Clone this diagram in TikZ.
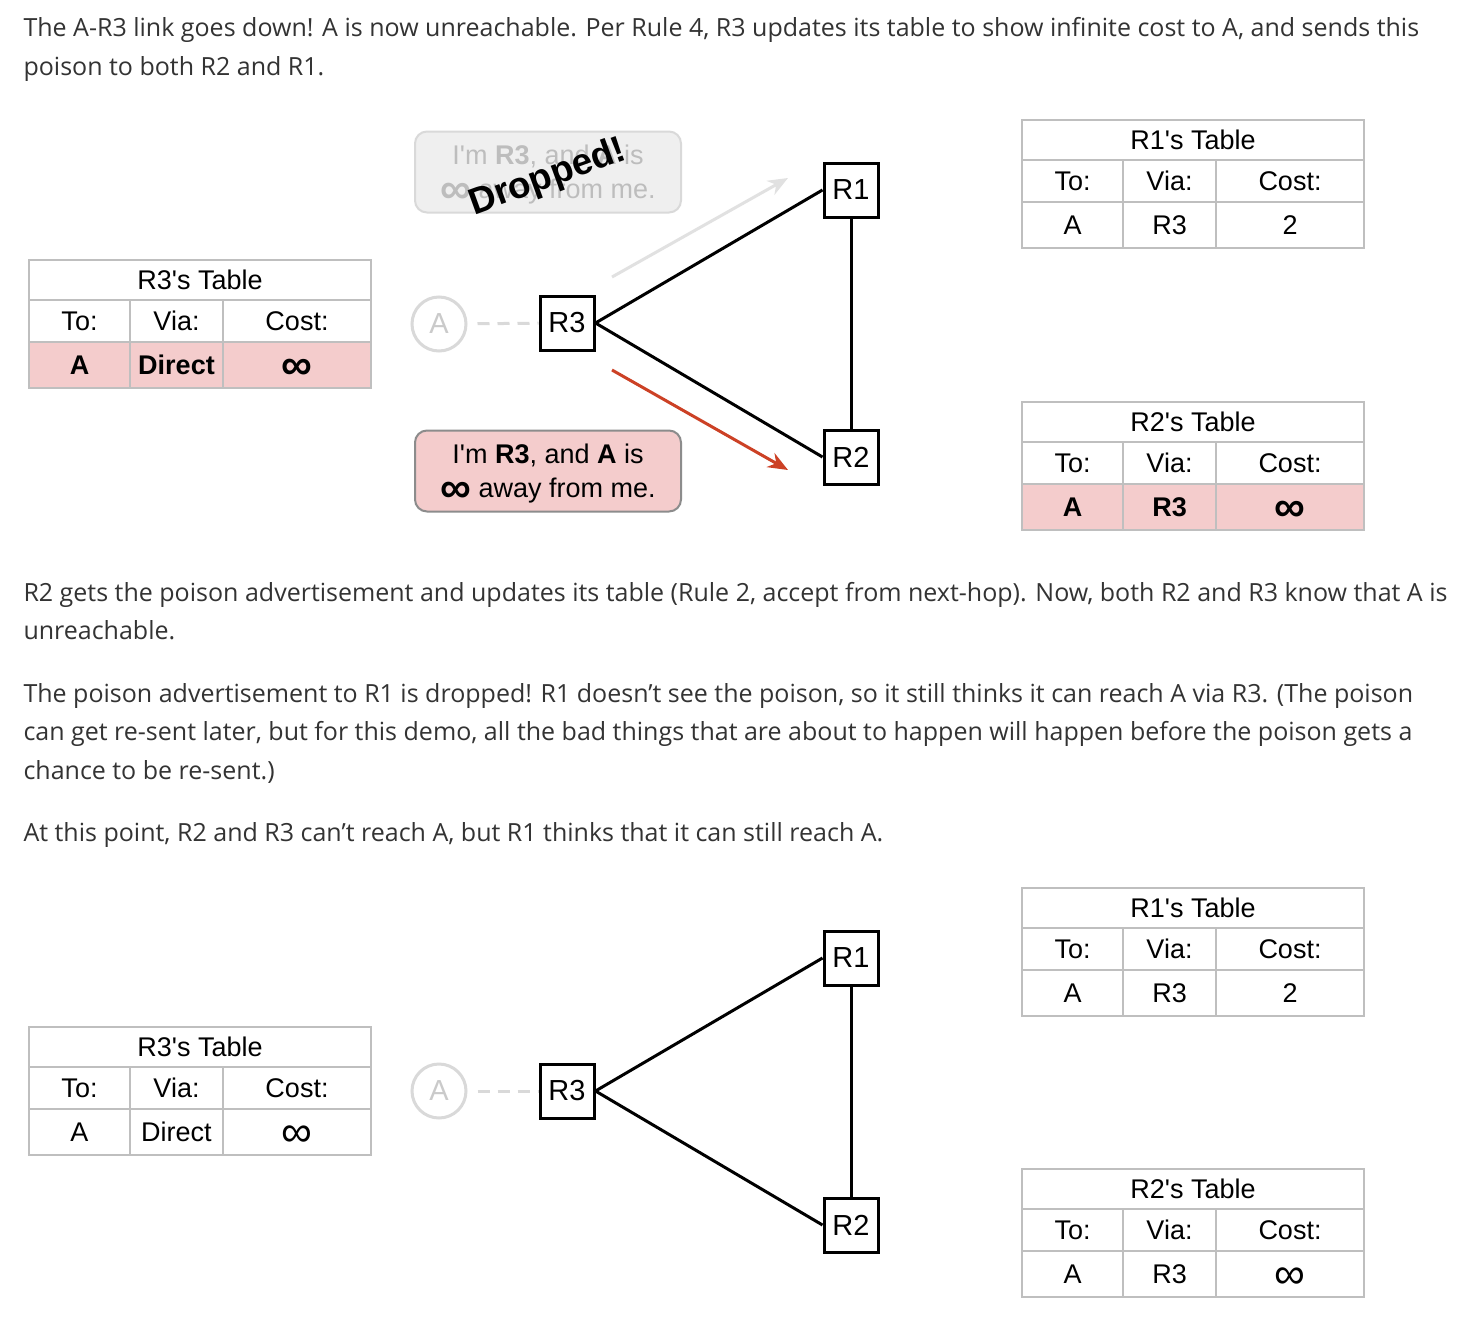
\documentclass[tikz,border=0pt]{standalone}
\usepackage{fontspec}
\setmainfont{Open Sans}
\newfontfamily\diagfont{Liberation Sans}
\usetikzlibrary{arrows.meta,positioning}

\definecolor{bodytext}{HTML}{333333}
\definecolor{rowpink}{HTML}{F4CCCC}
\definecolor{poisonred}{HTML}{CC4125}
\definecolor{gridgray}{HTML}{BFBFBF}
\definecolor{fadegray}{HTML}{D9D9D9}
\definecolor{fadetext}{HTML}{BDBDBD}
\definecolor{bubblegray}{HTML}{EFEFEF}

\newcommand{\infsym}{\raisebox{-0.16em}{\scalebox{1.6}{∞}}}

% one routing table: name, x, y, title, via, cost, row style
\newcommand{\routetable}[7]{%
  \node[tcell, minimum width=342pt, minimum height=40pt] (#1t) at (#2,#3) {#4};
  \node[tcell, minimum width=101pt, minimum height=42pt] (#1h1) at (#1t.south west) {To:};
  \node[tcell, minimum width=93pt,  minimum height=42pt] (#1h2) at (#1h1.north east) {Via:};
  \node[tcell, minimum width=148pt, minimum height=42pt] (#1h3) at (#1h2.north east) {Cost:};
  \node[tcell, #7, minimum width=101pt, minimum height=46pt] (#1d1) at (#1h1.south west) {A};
  \node[tcell, #7, minimum width=93pt,  minimum height=46pt] (#1d2) at (#1d1.north east) {#5};
  \node[tcell, #7, minimum width=148pt, minimum height=46pt] (#1d3) at (#1d2.north east) {#6};
}

\begin{document}
\begin{tikzpicture}[x=1pt,y=-1pt,>={Stealth[length=20pt,width=16pt]},
                    line width=3pt]
  \tikzstyle{para}=[anchor=base west, inner sep=0, text=bodytext,
                    font=\fontsize{25}{28}\selectfont]
  \tikzstyle{router}=[draw, line width=3pt, minimum size=54pt, inner sep=0,
                      font=\diagfont\fontsize{29}{29}\selectfont]
  \tikzstyle{host}=[circle, draw=fadegray, line width=3pt, minimum size=54pt,
                    inner sep=0, text=fadetext!80, font=\diagfont\fontsize{29}{29}\selectfont]
  \tikzstyle{link}=[line width=3pt]
  \tikzstyle{downlink}=[line width=3pt, draw=fadegray, dash pattern=on 12pt off 8pt,
                        shorten <=10pt]
  \tikzstyle{tcell}=[draw=gridgray, line width=2pt, inner sep=0, outer sep=0,
                     text height=19.5pt, text depth=0pt,
                     anchor=north west, font=\diagfont\fontsize{27}{27}\selectfont]
  \tikzstyle{hot}=[fill=rowpink, font=\diagfont\bfseries\fontsize{27}{27}\selectfont]
  \tikzstyle{plain}=[]
  \tikzstyle{bubble}=[rounded corners=12pt, line width=2pt, minimum width=266pt,
                      minimum height=81pt, inner sep=0, align=center, text depth=0pt,
                      font=\diagfont\fontsize{27}{34}\selectfont]

  \useasboundingbox[fill=white] (0,0) rectangle (1462,1325);

  % text
  \node[para] (p1a) at (22,36) {The A-R3 link goes down! A is now unreachable. Per Rule 4, R3 updates its table to show infinite cost to A, and sends this};
  \node[para] (p1b) at (22,75) {poison to both R2 and R1.};
  \node[para] (p2a) at (22,601) {R2 gets the poison advertisement and updates its table (Rule 2, accept from next-hop). Now, both R2 and R3 know that A is};
  \node[para] (p2b) at (22,639) {unreachable.};
  \node[para] (p3a) at (22,702) {The poison advertisement to R1 is dropped! R1 doesn’t see the poison, so it still thinks it can reach A via R3. (The poison};
  \node[para] (p3b) at (22,740) {can get re-sent later, but for this demo, all the bad things that are about to happen will happen before the poison gets a};
  \node[para] (p3c) at (22,779) {chance to be re-sent.)};
  \node[para] (p4a) at (22,841) {At this point, R2 and R3 can’t reach A, but R1 thinks that it can still reach A.};

  % first snapshot
  \node[router] (R1) at (851,190) {R1};
  \node[router] (R3) at (567,323) {R3};
  \node[router] (R2) at (851,457) {R2};
  \node[host]   (A)  at (439,324) {A};

  \path (A)  edge [downlink] (R3)
        (R3.east) edge [link] (R1.west)
        (R3.east) edge [link] (R2.west)
        (R1) edge [link] (R2);

  \node[bubble, fill=bubblegray, draw=fadegray, text=fadetext] (lost) at (548,172)
    {I'm \textbf{R3}, and \textbf{A} is\\\textbf{\infsym} away from me.};
  \node[rotate=20, inner sep=0, font=\diagfont\bfseries\fontsize{37}{37}\selectfont]
    (drop) at (548,178) {Dropped!};
  \node[bubble, fill=rowpink, draw=black!45] (sent) at (548,471)
    {I'm \textbf{R3}, and \textbf{A} is\\\textbf{\infsym} away from me.};

  \coordinate (lostfrom) at (612,277);
  \coordinate (lostto)   at (788,178);
  \coordinate (sentfrom) at (612,370);
  \coordinate (sentto)   at (788,470);
  \draw[->, fadegray!80] (lostfrom) -- (lostto);
  \draw[->, poisonred] (sentfrom) -- (sentto);

  \routetable{r3a}{29}{260}{R3's Table}{Direct}{\infsym}{hot}
  \routetable{r1a}{1022}{120}{R1's Table}{R3}{2}{plain}
  \routetable{r2a}{1022}{402}{R2's Table}{R3}{\infsym}{hot}

  % second snapshot
  \node[router] (S1) at (851,958) {R1};
  \node[router] (S3) at (567,1091) {R3};
  \node[router] (S2) at (851,1225) {R2};
  \node[host]   (B)  at (439,1091) {A};

  \path (B)  edge [downlink] (S3)
        (S3.east) edge [link] (S1.west)
        (S3.east) edge [link] (S2.west)
        (S1) edge [link] (S2);

  \routetable{r3b}{29}{1027}{R3's Table}{Direct}{\infsym}{plain}
  \routetable{r1b}{1022}{888}{R1's Table}{R3}{2}{plain}
  \routetable{r2b}{1022}{1169}{R2's Table}{R3}{\infsym}{plain}
\end{tikzpicture}
\end{document}
